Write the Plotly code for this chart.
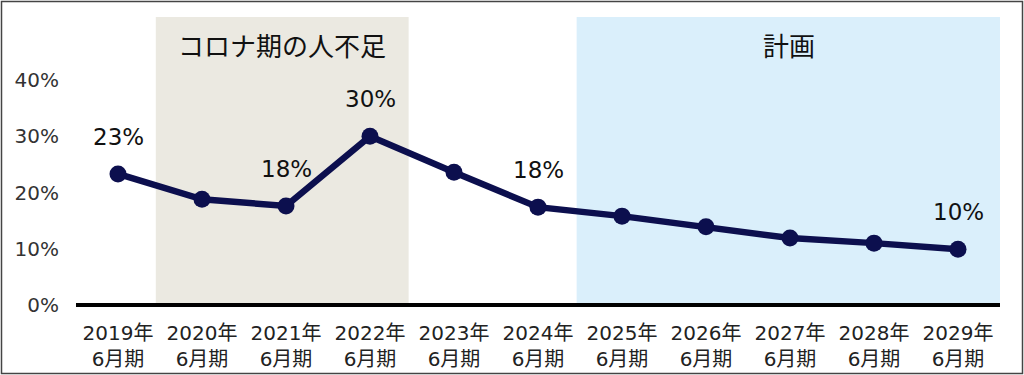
import plotly.graph_objects as go

categories = ["2019年<br>6月期", "2020年<br>6月期", "2021年<br>6月期", "2022年<br>6月期",
              "2023年<br>6月期", "2024年<br>6月期", "2025年<br>6月期", "2026年<br>6月期",
              "2027年<br>6月期", "2028年<br>6月期", "2029年<br>6月期"]
values = [23.3, 18.8, 17.6, 30.0, 23.6, 17.4, 15.8, 13.9, 11.9, 11.0, 9.9]
label_texts = ["23%", "", "18%", "30%", "", "18%", "", "", "", "", "10%"]
y_tickvals = [0, 10, 20, 30, 40]
y_ticktext = ["0%", "10%", "20%", "30%", "40%"]
band_labels = ["コロナ期の人不足", "計画"]

FONT = "'DejaVu Sans', 'Noto Sans CJK JP', sans-serif"
JP = "'Noto Sans CJK JP', sans-serif"
NAVY = "#0c0f4e"

x_idx = list(range(len(categories)))

fig = go.Figure()
fig.add_trace(go.Scatter(
    x=x_idx, y=values, mode="lines+markers",
    line=dict(color=NAVY, width=6.5),
    marker=dict(color=NAVY, size=17),
    hoverinfo="skip", showlegend=False,
))

# background bands
fig.add_shape(type="rect", xref="x", yref="paper", x0=0.45, x1=3.46, y0=0, y1=1,
              fillcolor="#ebe9e1", line_width=0, layer="below")
fig.add_shape(type="rect", xref="x", yref="paper", x0=5.46, x1=10.52, y0=0, y1=1,
              fillcolor="#daeffb", line_width=0, layer="below")

# band titles
fig.add_annotation(x=(0.45 + 3.46) / 2, xref="x", y=1, yref="paper", yanchor="middle", yshift=-27,
                   text=band_labels[0], showarrow=False,
                   font=dict(family=JP, size=26, color="#111111"))
fig.add_annotation(x=(5.46 + 10.52) / 2, xref="x", y=1, yref="paper", yanchor="middle", yshift=-27,
                   text=band_labels[1], showarrow=False,
                   font=dict(family=JP, size=26, color="#111111"))

# data labels
for i, t in enumerate(label_texts):
    if t:
        fig.add_annotation(x=x_idx[i], y=values[i], text=t, showarrow=False,
                           yshift=37, font=dict(family=FONT, size=23, color="#111111"))

# outer frame
pw = 1024 - 76 - 24
ph = 375 - 17 - 70
fig.add_shape(type="rect", xref="paper", yref="paper",
              x0=(1.5 - 76) / pw, x1=(1022.5 - 76) / pw,
              y0=(305 - 373.5) / ph, y1=(305 - 1.5) / ph,
              line=dict(color="#444444", width=1.5), fillcolor="rgba(0,0,0,0)", layer="above")

fig.update_layout(
    width=1024, height=375,
    margin=dict(l=76, r=24, t=17, b=70, autoexpand=False),
    paper_bgcolor="white", plot_bgcolor="white",
    font=dict(family=FONT, color="#333333"),
)
fig.update_xaxes(
    range=[-0.5, 10.5], tickvals=x_idx, ticktext=categories,
    showgrid=False, zeroline=False, showline=False, ticks="",
    ticklabelstandoff=14, automargin=False,
    tickfont=dict(family=FONT, size=20, color="#222222"),
)
fig.update_yaxes(
    range=[0, 51.2], tickvals=y_tickvals, ticktext=y_ticktext,
    showgrid=False, zeroline=True, zerolinecolor="#000000", zerolinewidth=4,
    showline=False, ticks="", ticklabelstandoff=16, automargin=False,
    tickfont=dict(family=FONT, size=20, color="#333333"),
)

fig.write_html("out.html", config={"displayModeBar": False},
               post_script="document.body.style.margin='0';")
